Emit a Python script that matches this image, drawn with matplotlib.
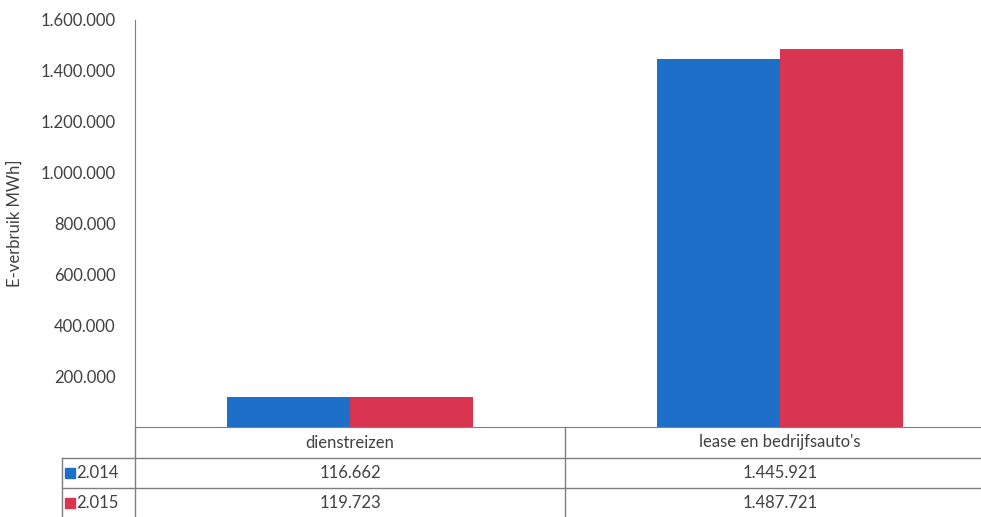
import matplotlib
matplotlib.use("Agg")
import matplotlib.pyplot as plt
from matplotlib.transforms import blended_transform_factory

categories = ["dienstreizen", "lease en bedrijfsauto's"]
series_names = ["2.014", "2.015"]
values_2014 = [116662, 1445921]
values_2015 = [119723, 1487721]
yticks = [200000, 400000, 600000, 800000, 1000000, 1200000, 1400000, 1600000]

blue = "#1E6FC7"
red = "#DA3550"
grid_col = "#7f7f7f"
txt_col = "#404040"

plt.rcParams['font.family'] = ['Lato', 'DejaVu Sans']

def nl(v):
    return f"{v:,.0f}".replace(",", ".")

W, H = 981, 517
fig = plt.figure(figsize=(W/100, H/100), dpi=100)
left_px, right_px, top_px, bot_px = 135, 995, 20, 427
ax = fig.add_axes([left_px/W, (H-bot_px)/H, (right_px-left_px)/W, (bot_px-top_px)/H])

x = [0, 1]
bw = 0.285
ax.bar([xi - bw/2 for xi in x], values_2014, width=bw, color=blue, label=series_names[0])
ax.bar([xi + bw/2 for xi in x], values_2015, width=bw, color=red, label=series_names[1])

fs = 12
ax.set_xlim(-0.5, 1.5)
ax.set_ylim(0, 1600000)
ax.set_yticks(yticks)
ax.set_yticklabels([nl(v) for v in yticks], fontsize=fs, color=txt_col)
ax.tick_params(axis='y', length=0, pad=14)
ax.set_xticks([])
for s in ["top", "right"]:
    ax.spines[s].set_visible(False)
ax.spines["left"].set_color(grid_col)
ax.spines["bottom"].set_color(grid_col)
ax.set_ylabel("E-verbruik MWh]", fontsize=fs, color=txt_col)
ax.yaxis.set_label_coords((23 - left_px)/(right_px - left_px), 0.5)

# data table below the axes
tr = blended_transform_factory(ax.transData, ax.transAxes)
ah = bot_px - top_px
def yf(px):
    return -(px - bot_px) / ah
y_head = yf(458)
y_r1 = yf(488)
y_r2 = yf(518)
x_left_label = (62 - left_px) / (right_px - left_px)

lkw = dict(color=grid_col, lw=1.0, clip_on=False)
ax.plot([x_left_label, 1], [y_head, y_head], transform=ax.transAxes, **lkw)
ax.plot([x_left_label, 1], [y_r1, y_r1], transform=ax.transAxes, **lkw)
ax.plot([0, 0], [0, y_r2], transform=ax.transAxes, **lkw)
ax.plot([0.5, 0.5], [0, y_r2], transform=tr, **lkw)
ax.plot([x_left_label, x_left_label], [y_head, y_r2], transform=ax.transAxes, **lkw)

for xi, c in zip(x, categories):
    ax.text(xi, (0 + y_head)/2, c, transform=tr, ha='center', va='center',
            fontsize=fs, color=txt_col)
rows = [(series_names[0], values_2014, blue, (y_head + y_r1)/2),
        (series_names[1], values_2015, red, (y_r1 + y_r2)/2)]
for name, vals, col, yc in rows:
    for xi, v in zip(x, vals):
        ax.text(xi, yc, nl(v), transform=tr, ha='center', va='center',
                fontsize=fs, color=txt_col)
    ax.text((76 - left_px)/(right_px-left_px), yc, name, transform=ax.transAxes,
            ha='left', va='center', fontsize=fs, color=txt_col)
    ax.plot([(70 - left_px)/(right_px-left_px)], [yc], marker='s', markersize=6.5,
            color=col, transform=ax.transAxes, clip_on=False)

fig.savefig("out.png", dpi=100)
